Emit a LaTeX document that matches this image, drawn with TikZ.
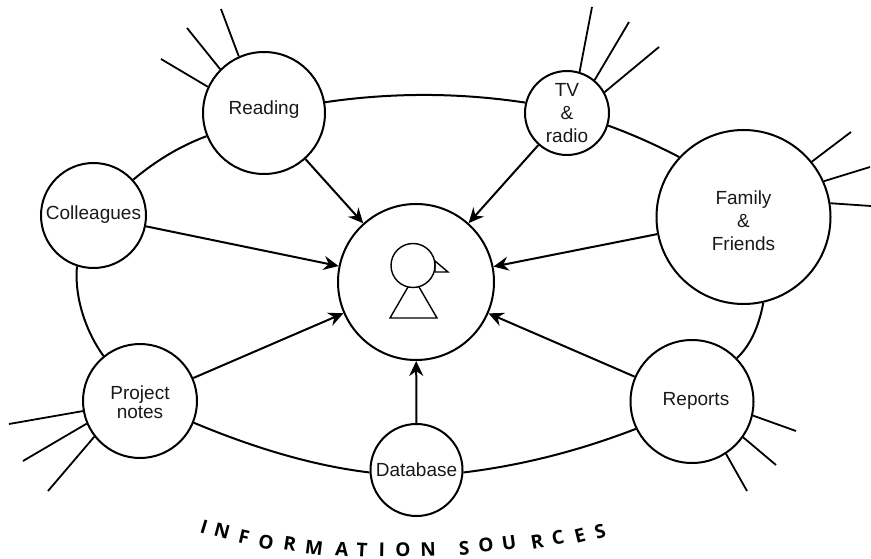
\documentclass[tikz,border=0pt]{standalone}
\usepackage{fontspec}
\setmainfont{Liberation Sans}
\newfontfamily\capfont{Open Sans}
\usetikzlibrary{arrows.meta,calc}
\tikzset{
  src/.style={draw=black,circle,line width=2pt,inner sep=0pt,minimum size=#1},
  lab/.style={font=\fontsize{19}{23}\selectfont,align=center,inner sep=0pt,text=black!90},
  labtight/.style={font=\fontsize{19}{19.5}\selectfont,align=center,inner sep=0pt,text=black!90},
  link/.style={line width=2pt,black},
  ray/.style={line width=1.8pt,black},
  flow/.style={line width=2pt,black,-{Stealth[length=15pt,width=14pt,inset=5pt]}},
  bird/.style={line width=1.4pt,black,line join=miter},
  captext/.style={font=\capfont\bfseries\fontsize{19}{22}\selectfont,inner sep=0pt}
}
\newcommand{\qlink}[3]{\draw[link] (#1) .. controls ($(#1)!.667!(#2)$) and ($(#3)!.667!(#2)$) .. (#3);}
\begin{document}
\begin{tikzpicture}[x=1pt,y=-1pt]
\useasboundingbox (0,0) rectangle (871,559);
\node[src=156pt] (me) at (416,282) {};
\node[src=122pt,label={[lab,yshift=3pt]center:Reading}] (reading) at (264,113) {};
\node[src=84pt,label={[lab]center:TV\\\&\\radio}] (tv) at (567,113) {};
\node[src=105pt,label={[lab,yshift=1pt]center:Colleagues}] (coll) at (93.5,215.5) {};
\node[src=174pt,label={[lab,yshift=-4pt]center:Family\\\&\\Friends}] (family) at (743.5,217) {};
\node[src=114pt,label={[labtight,yshift=-1pt]center:Project\\notes}] (project) at (140,401) {};
\node[src=123pt,label={[lab,xshift=4pt,yshift=1pt]center:Reports}] (reports) at (692,401.5) {};
\node[src=92pt,label={[lab]center:Database}] (db) at (416.5,470) {};
% outer ring
\qlink{reading.10}{425,87.5}{tv.166.6}
\qlink{tv.-17.6}{642.5,138}{family.137.6}
\qlink{family.-77.2}{756.5,339.5}{reports.44.7}
\qlink{reports.206.6}{550,462}{db.-3}
\qlink{db.183}{290,463}{project.-22.5}
\draw[link] (project.129.4) .. controls (88,335) and (74,300) .. (coll.-108);
\qlink{coll.42.7}{168,150.5}{reading.202}
% rays
\foreach \n/\a/\x/\y in {reading/114.9/221/9,reading/135/187/28,reading/155.1/161/59,tv/73.7/592/7,tv/50.7/629/22,tv/29.6/659/47,family/39.2/851/132,family/24.1/870/167,family/9.2/871/206,reports/-13.4/796/431,reports/-35.6/776/465,reports/-57.1/747/491,project/190/9/424,project/203.1/23/461,project/218/48/491}{
  \coordinate (end) at (\x,\y);
  \draw[ray] (\n.\a) -- (end);
}
% flows
\foreach \n in {reading,tv,coll,family,project,reports,db}
  \draw[flow] (\n) -- (me);
% bird
\node[draw=black,circle,line width=1.4pt,minimum size=44pt,inner sep=0pt] (head) at (413,265.5) {};
\draw[bird] (435,261) -- (448,272) -- (435,272) -- cycle;
\draw[bird] (408,287) -- (390,318) -- (437,318) -- (419,287);
% caption
\foreach \c/\x/\y/\r in {I/204/527/-17,N/222/531/-15,F/244/537/-13,O/266/542/-11,R/290/544/-9,M/314/548/-7,A/342/549/-5,T/362/550/-3,I/382/550/-1,O/403/550/0,N/428/549/2,S/464/548/4,O/486/545/6,U/509/543/8,R/537/542/10,C/558/538/12,E/580/536/14,S/600/532/16}
  \node[captext,rotate=\r] at (\x,\y) {\c};
\end{tikzpicture}
\end{document}
